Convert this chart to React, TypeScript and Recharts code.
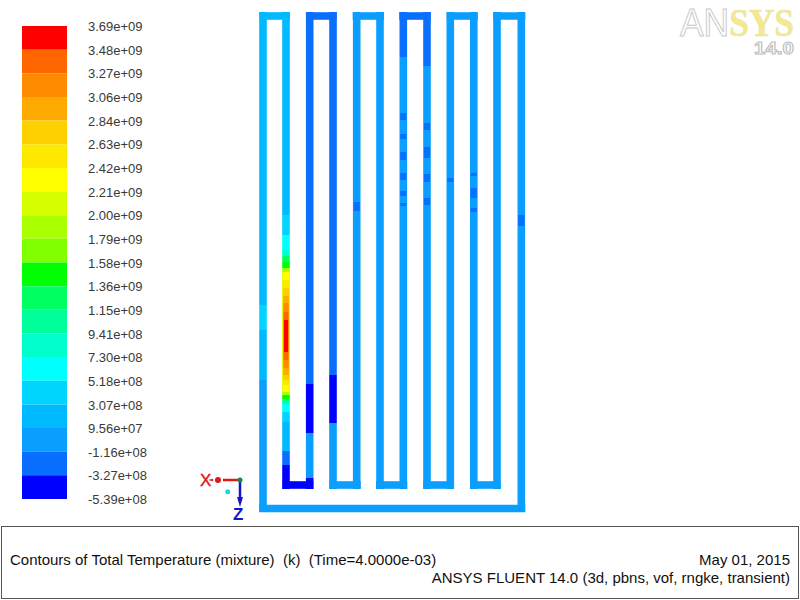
import React from 'react';
import { BarChart, Bar, ComposedChart, Line, ReferenceDot, XAxis, YAxis } from 'recharts';

const FONT = '"Liberation Sans", Arial, sans-serif';

// contour levels, top of the colour bar first
const levelLabels = [
  '3.69e+09', '3.48e+09', '3.27e+09', '3.06e+09', '2.84e+09', '2.63e+09', '2.42e+09',
  '2.21e+09', '2.00e+09', '1.79e+09', '1.58e+09', '1.36e+09', '1.15e+09', '9.41e+08',
  '7.30e+08', '5.18e+08', '3.07e+08', '9.56e+07', '-1.16e+08', '-3.27e+08', '-5.39e+08',
];
const bandColors = [
  '#ff0000', '#ff6600', '#ff8c00', '#ffaa00', '#ffd000', '#ffe800', '#ffff00', '#d8ff00', '#aaff00', '#7fff00',
  '#00ff00', '#00ff60', '#00ff9a', '#00ffcc', '#00ffff', '#00d5ff', '#00baff', '#0a9eff', '#0a6eff', '#0000ff',
];
const bandSteps = [1, 1, 1, 1, 1, 1, 1, 1, 1, 1, 1, 1, 1, 1, 1, 1, 1, 1, 1, 1];

// channel runs: x, from y, to y, band
const verticalRuns: number[][] = [
  [263, 12, 305, 16], [263, 305, 330, 15], [263, 330, 380, 16], [263, 380, 512, 17],
  [286, 12, 215, 16], [286, 215, 235, 15], [286, 235, 250, 14], [286, 250, 256, 13], [286, 256, 262, 11],
  [286, 262, 268, 10], [286, 268, 395, 8], [286, 395, 399, 10], [286, 399, 404, 12], [286, 404, 412, 14], [286, 412, 422, 15],
  [286, 422, 451, 16], [286, 451, 465, 18], [286, 465, 489, 19],
  [309.7, 12, 384, 18], [309.7, 384, 433, 19], [309.7, 433, 478, 17], [309.7, 478, 489, 19],
  [333, 12, 375, 18], [333, 375, 423, 19], [333, 423, 489, 17],
  [356.7, 12, 489, 17], [380, 12, 489, 17],
  [403.3, 12, 57, 18], [403.3, 57, 489, 17],
  [427, 12, 66, 18], [427, 66, 489, 17],
  [450.3, 12, 489, 17], [473.8, 12, 489, 17], [497, 12, 489, 17], [521.3, 12, 512, 17],
];
// channel crossings: y, from x, to x, band
const horizontalRuns: number[][] = [
  [16, 259.3, 290, 16], [16, 306, 336.7, 18], [16, 352.7, 384, 17], [16, 399.3, 430.7, 18],
  [16, 446.7, 477.7, 17], [16, 493.3, 525.3, 17],
  [485, 282.7, 313.3, 19], [485, 329.3, 360.7, 17], [485, 376, 407.3, 17], [485, 423.3, 454, 17],
  [485, 470, 500.7, 17], [508.5, 259.3, 525.3, 17],
];
// small cold patches: x, from y, to y
const coldSpots: number[][] = [
  [403.3, 113, 120], [403.3, 134, 139], [403.3, 152, 160], [403.3, 173, 180], [403.3, 191, 196], [403.3, 203, 206],
  [427, 123, 130], [427, 147, 158], [427, 174, 182], [427, 198, 205],
  [356.7, 202, 211], [450.3, 178, 182], [473.8, 173, 176], [473.8, 188, 198], [473.8, 208, 212], [521.3, 215, 226],
];
// hot core in the second channel: from y, to y, band, width
const hotCore: number[][] = [
  [272, 392, 6, 7], [280, 385, 5, 6.5], [288, 380, 4, 6], [296, 375, 3, 5.5], [303, 368, 2, 5],
  [312, 360, 1, 4.6], [320, 352, 0, 4],
];

const colorBarRow = [Object.fromEntries(bandSteps.map((v, i) => [`b${i}`, v]))];

const vertical = (x: number, a: number, b: number) => [{ x, y: a }, { x, y: b }];

const ArrowLeft = ({ cx, cy }: any) => <path d={`M${cx - 12} ${cy} L${cx} ${cy - 3} L${cx} ${cy + 3} Z`} fill="#e01818" />;
const ArrowDown = ({ cx, cy }: any) => <path d={`M${cx} ${cy + 10} L${cx - 3} ${cy} L${cx + 3} ${cy} Z`} fill="#1414d0" />;

const App = () => {
  return (
    <div style={{ position: 'absolute', left: 0, top: 0, width: 800, height: 600, background: '#fff', overflow: 'hidden' }}>
      {/* colour bar */}
      <div style={{ position: 'absolute', left: 22, top: 16 }}>
        <BarChart width={150} height={493} data={colorBarRow} margin={{ top: 10, bottom: 10, left: 0, right: 0 }} barCategoryGap={0} stackOffset="none">
          <XAxis hide dataKey={() => 'bar'} />
          <YAxis
            orientation="right"
            width={105}
            type="number"
            domain={[0, 20]}
            reversed
            ticks={levelLabels.map((_, i) => i)}
            interval={0}
            tickFormatter={(i: number) => levelLabels[i]}
            tick={{ fill: '#3a3a3a', fontSize: 13, fontFamily: FONT, dy: 0.5 }}
            tickLine={false}
            axisLine={false}
            tickMargin={15}
          />
          {bandColors.map((c, i) => (
            <Bar key={i} dataKey={`b${i}`} stackId="levels" fill={c} isAnimationActive={false} />
          ))}
        </BarChart>
      </div>

      {/* channels */}
      <div style={{ position: 'absolute', left: 0, top: 0, filter: 'blur(0.5px)' }}>
        <ComposedChart width={800} height={600} margin={{ top: 0, bottom: 0, left: 0, right: 0 }}>
          <XAxis hide type="number" dataKey="x" domain={[0, 800]} allowDuplicatedCategory />
          <YAxis hide type="number" domain={[0, 600]} reversed />
          {verticalRuns.map(([x, a, b, band], i) => (
            <Line key={`v${i}`} data={vertical(x, a, b)} dataKey="y" stroke={bandColors[band]} strokeWidth={7.6} dot={false} isAnimationActive={false} />
          ))}
          {horizontalRuns.map(([y, a, b, band], i) => (
            <Line key={`h${i}`} data={[{ x: a, y }, { x: b, y }]} dataKey="y" stroke={bandColors[band]} strokeWidth={7.6} dot={false} isAnimationActive={false} />
          ))}
          {coldSpots.map(([x, a, b], i) => (
            <Line key={`c${i}`} data={vertical(x, a, b)} dataKey="y" stroke={bandColors[18]} strokeWidth={6} dot={false} isAnimationActive={false} />
          ))}
          {hotCore.map(([a, b, band, w], i) => (
            <Line key={`k${i}`} data={vertical(286, a, b)} dataKey="y" stroke={bandColors[band]} strokeWidth={w} dot={false} isAnimationActive={false} />
          ))}
          {/* axis triad */}
          <Line data={[{ x: 240, y: 480 }, { x: 218, y: 480 }]} dataKey="y" stroke="#e01818" strokeWidth={2.5} dot={false} isAnimationActive={false} />
          <Line data={[{ x: 240, y: 480 }, { x: 240, y: 498 }]} dataKey="y" stroke="#1414d0" strokeWidth={2.5} dot={false} isAnimationActive={false} />
          <ReferenceDot x={220} y={480} shape={ArrowLeft} />
          <ReferenceDot x={240} y={497} shape={ArrowDown} />
          <ReferenceDot x={240} y={480} r={2.5} fill="#1a8a3a" stroke="none" />
          <ReferenceDot x={227.7} y={491.7} r={2.5} fill="#00e5e5" stroke="none" />
        </ComposedChart>
      </div>

      <svg width={800} height={600} style={{ position: 'absolute', left: 0, top: 0, pointerEvents: 'none' }}>
        <text x={200} y={486} fontFamily={FONT} fontSize={17} fill="#d81818" stroke="#d81818" strokeWidth={0.4}>X</text>
        <text x={233} y={520} fontFamily={FONT} fontSize={17} fontWeight="bold" fill="#1414d0">Z</text>
        {/* logo */}
        <text x={680} y={36} fontSize={39} textLength={114} lengthAdjust="spacingAndGlyphs">
          <tspan fontFamily='"Liberation Sans", sans-serif' fill="#fff" stroke="#c8c8c8" strokeWidth={1}>AN</tspan>
          <tspan fontFamily='"Liberation Serif", serif' fontWeight="bold" fill="#f3e98e" stroke="#e8e4b0" strokeWidth={0.5}>SYS</tspan>
        </text>
        <text x={754} y={54} fontFamily={FONT} fontWeight="bold" fontSize={17} textLength={40} lengthAdjust="spacingAndGlyphs" fill="#fff" stroke="#bdbdbd" strokeWidth={1}>14.0</text>
      </svg>

      {/* caption box */}
      <div style={{ position: 'absolute', left: 1, top: 526, width: 796, height: 71, border: '1px solid #555', fontFamily: FONT, fontSize: 15, color: '#111' }}>
        <div style={{ position: 'absolute', left: 8, top: 24, whiteSpace: 'pre' }}>Contours of Total Temperature (mixture)  (k)  (Time=4.0000e-03)</div>
        <div style={{ position: 'absolute', right: 8, top: 24, whiteSpace: 'pre' }}>May 01, 2015</div>
        <div style={{ position: 'absolute', right: 8, top: 42, whiteSpace: 'pre' }}>ANSYS FLUENT 14.0 (3d, pbns, vof, rngke, transient)</div>
      </div>
    </div>
  );
};

export default App;
